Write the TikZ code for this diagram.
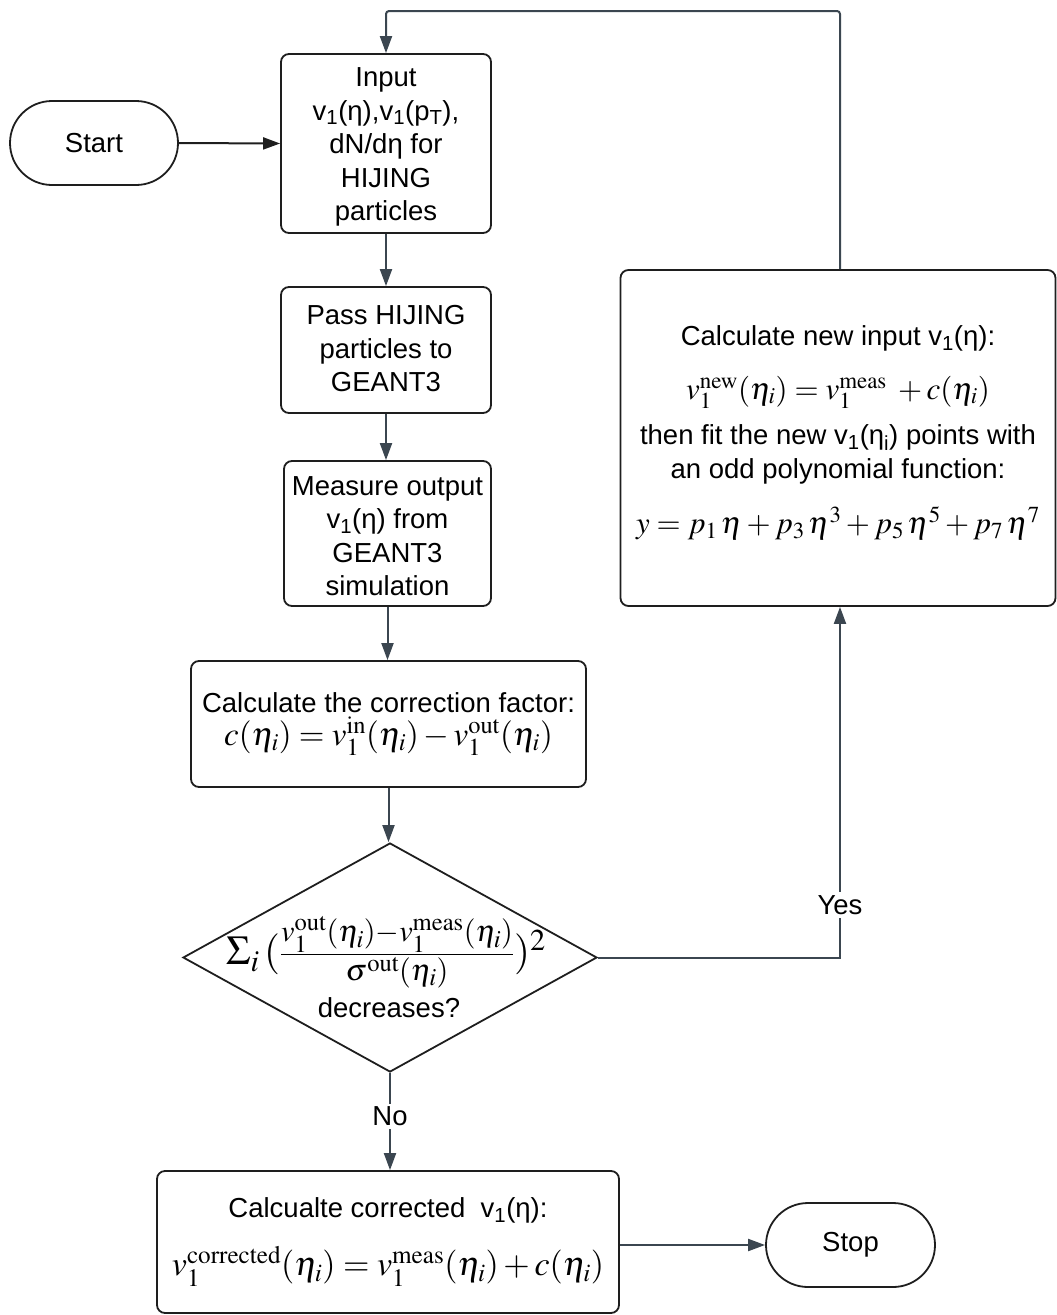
\documentclass[tikz,border=0pt]{standalone}
\usepackage{mathptmx}
\usepackage[no-math]{fontspec}
\setmainfont{Liberation Sans}
\usetikzlibrary{arrows.meta,shapes.misc,shapes.geometric}
\newcommand\vsub[1]{\textsubscript{#1}}
\newcommand\mfont{\fontsize{31}{37}\selectfont}
\definecolor{arrowc}{HTML}{3B4650}
\definecolor{boxc}{HTML}{1E1E1E}
\begin{document}
\begin{tikzpicture}[x=1pt,y=-1pt,
  base/.style={draw=boxc, line width=1.8pt, font=\fontsize{27.5}{33.5}\selectfont, align=center, inner sep=0pt},
  procbox/.style={base, rectangle, rounded corners=8pt},
  term/.style={base, rounded rectangle},
  decbox/.style={base, diamond},
  plain/.style={font=\fontsize{27.5}{33.5}\selectfont, align=center, inner sep=0pt},
  flow/.style={draw=arrowc, line width=2pt, -{Triangle[length=17pt,width=12pt]}},
  lbl/.style={font=\fontsize{27.5}{33.5}\selectfont, fill=white, inner sep=3pt}]
\useasboundingbox (0,0) rectangle (1057,1315);

\node[term, minimum width=168pt, minimum height=84pt] (start) at (94,143) {Start};
\node[procbox, minimum width=210pt, minimum height=179pt] (input) at (386,143.5) {};
\node[plain] (inputtext) at (386,147)
  {Input\\ v\vsub{1}(η),v\vsub{1}(p\vsub{T}),\\ dN/dη for\\ HIJING\\ particles};
\node[procbox, minimum width=210pt, minimum height=126pt] (pass) at (386,350) {};
\node[plain] (passtext) at (386,349) {Pass HIJING\\ particles to\\ GEANT3};
\node[procbox, minimum width=207pt, minimum height=145pt] (measure) at (387.5,533.5) {};
\node[plain] (meastext) at (387.5,536) {Measure output\\ v\vsub{1}(η) from\\ GEANT3\\ simulation};
\node[procbox, minimum width=395pt, minimum height=126pt] (corr) at (388.5,724)
  {Calculate the correction factor:\\[0pt]
   {\fontsize{33}{38}\selectfont $c(\eta_i)=v_1^{\mathrm{in}}(\eta_i)-v_1^{\mathrm{out}}(\eta_i)$}};
\node[decbox, minimum width=414pt, minimum height=229pt] (dec) at (390,957.5) {};
\node[plain] (decformula) at (386,952)
  {\fontsize{41}{46}\selectfont $\Sigma_i\,(\frac{v_1^{\mathrm{out}}(\eta_i)-v_1^{\mathrm{meas}}(\eta_i)}{\sigma^{\mathrm{out}}(\eta_i)})^2$};
\node[plain] (dectext) at (389,1008) {decreases?};
\node[procbox, minimum width=462pt, minimum height=142pt] (final) at (388,1242)
  {Calcualte corrected\ \ v\vsub{1}(η):\\[22pt]
   {\fontsize{34}{38}\selectfont $v_1^{\mathrm{corrected}}(\eta_i)=v_1^{\mathrm{meas}}(\eta_i)+c(\eta_i)$}};
\node[term, minimum width=169pt, minimum height=84pt] (stop) at (850.5,1245) {Stop};
\node[procbox, minimum width=435pt, minimum height=336pt] (newin) at (838,438) {};
\node[plain] (newtext) at (838,433)
  {Calculate new input v\vsub{1}(η):\\[20pt]
   {\mfont $v_1^{\mathrm{new}}(\eta_i)=v_1^{\mathrm{meas}}\;+c(\eta_i)$}\\[12pt]
   then fit the new v\vsub{1}(η\vsub{i}) points with\\
   an odd polynomial function:\\[22pt]
   {\mfont $y=p_1\,\eta+p_3\,\eta^3+p_5\,\eta^5+p_7\,\eta^7$}};

\coordinate (loop) at (386,11);
\coordinate (yesc) at (840,957.5);

\draw[flow, draw=boxc] (start.east) -- (input.west);
\draw[flow] (input.south) -- (pass.north);
\draw[flow] (pass.south) -- (pass.south |- measure.north);
\draw[flow] (measure.south) -- (measure.south |- corr.north);
\draw[flow] (corr.south) -- (corr.south |- dec.north);
\draw[flow] (dec.south) -- node[lbl, pos=0.45] {No} (dec.south |- final.north);
\draw[flow] (dec.east) -- (yesc) -- node[lbl, pos=0.15] {Yes} (newin.south -| yesc);
\draw[flow, rounded corners=3pt] (newin.north -| yesc) |- (loop) -- (input.north);
\draw[flow] (final.east |- stop.west) -- (stop.west);
\end{tikzpicture}
\end{document}
